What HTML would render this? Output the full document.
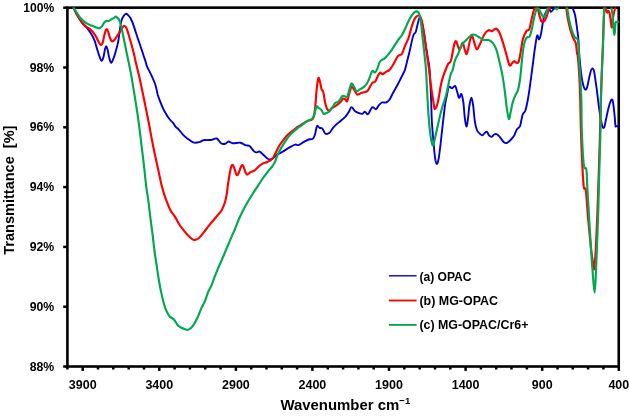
<!DOCTYPE html>
<html><head><meta charset="utf-8"><title>FTIR</title>
<style>html,body{margin:0;padding:0;background:#fff}</style></head>
<body>
<svg width="629" height="416" viewBox="0 0 629 416" style="display:block;font-family:'Liberation Sans',sans-serif;font-weight:bold">
<rect width="629" height="416" fill="#fff"/>
<defs><clipPath id="c"><rect x="68" y="7.4" width="551.8" height="360"/></clipPath></defs>
<rect x="67.4" y="7.65" width="551.35" height="358.85" fill="none" stroke="#000" stroke-width="2.6"/>
<line x1="63.2" x2="67.4" y1="7.7" y2="7.7" stroke="#000" stroke-width="2.5"/>
<text x="23.3" y="11.8" font-size="12.5" textLength="31.0" lengthAdjust="spacingAndGlyphs">100%</text>
<line x1="63.2" x2="67.4" y1="67.5" y2="67.5" stroke="#000" stroke-width="2.5"/>
<text x="29.7" y="71.6" font-size="12.5" textLength="24.6" lengthAdjust="spacingAndGlyphs">98%</text>
<line x1="63.2" x2="67.4" y1="127.3" y2="127.3" stroke="#000" stroke-width="2.5"/>
<text x="29.7" y="131.4" font-size="12.5" textLength="24.6" lengthAdjust="spacingAndGlyphs">96%</text>
<line x1="63.2" x2="67.4" y1="187.1" y2="187.1" stroke="#000" stroke-width="2.5"/>
<text x="29.7" y="191.2" font-size="12.5" textLength="24.6" lengthAdjust="spacingAndGlyphs">94%</text>
<line x1="63.2" x2="67.4" y1="246.9" y2="246.9" stroke="#000" stroke-width="2.5"/>
<text x="29.7" y="251.0" font-size="12.5" textLength="24.6" lengthAdjust="spacingAndGlyphs">92%</text>
<line x1="63.2" x2="67.4" y1="306.7" y2="306.7" stroke="#000" stroke-width="2.5"/>
<text x="29.7" y="310.8" font-size="12.5" textLength="24.6" lengthAdjust="spacingAndGlyphs">90%</text>
<line x1="63.2" x2="67.4" y1="366.5" y2="366.5" stroke="#000" stroke-width="2.5"/>
<text x="29.7" y="370.6" font-size="12.5" textLength="24.6" lengthAdjust="spacingAndGlyphs">88%</text>
<line x1="67.4" x2="67.4" y1="366.5" y2="369.5" stroke="#000" stroke-width="2.5"/>
<line x1="82.7" x2="82.7" y1="366.5" y2="370.9" stroke="#000" stroke-width="2.5"/>
<text x="68.8" y="389.1" font-size="12.5" textLength="27.8" lengthAdjust="spacingAndGlyphs">3900</text>
<line x1="98.0" x2="98.0" y1="366.5" y2="369.5" stroke="#000" stroke-width="2.5"/>
<line x1="113.3" x2="113.3" y1="366.5" y2="369.5" stroke="#000" stroke-width="2.5"/>
<line x1="128.7" x2="128.7" y1="366.5" y2="369.5" stroke="#000" stroke-width="2.5"/>
<line x1="144.0" x2="144.0" y1="366.5" y2="369.5" stroke="#000" stroke-width="2.5"/>
<line x1="159.3" x2="159.3" y1="366.5" y2="370.9" stroke="#000" stroke-width="2.5"/>
<text x="145.4" y="389.1" font-size="12.5" textLength="27.8" lengthAdjust="spacingAndGlyphs">3400</text>
<line x1="174.6" x2="174.6" y1="366.5" y2="369.5" stroke="#000" stroke-width="2.5"/>
<line x1="189.9" x2="189.9" y1="366.5" y2="369.5" stroke="#000" stroke-width="2.5"/>
<line x1="205.2" x2="205.2" y1="366.5" y2="369.5" stroke="#000" stroke-width="2.5"/>
<line x1="220.6" x2="220.6" y1="366.5" y2="369.5" stroke="#000" stroke-width="2.5"/>
<line x1="235.9" x2="235.9" y1="366.5" y2="370.9" stroke="#000" stroke-width="2.5"/>
<text x="222.0" y="389.1" font-size="12.5" textLength="27.8" lengthAdjust="spacingAndGlyphs">2900</text>
<line x1="251.2" x2="251.2" y1="366.5" y2="369.5" stroke="#000" stroke-width="2.5"/>
<line x1="266.5" x2="266.5" y1="366.5" y2="369.5" stroke="#000" stroke-width="2.5"/>
<line x1="281.8" x2="281.8" y1="366.5" y2="369.5" stroke="#000" stroke-width="2.5"/>
<line x1="297.1" x2="297.1" y1="366.5" y2="369.5" stroke="#000" stroke-width="2.5"/>
<line x1="312.4" x2="312.4" y1="366.5" y2="370.9" stroke="#000" stroke-width="2.5"/>
<text x="298.5" y="389.1" font-size="12.5" textLength="27.8" lengthAdjust="spacingAndGlyphs">2400</text>
<line x1="327.8" x2="327.8" y1="366.5" y2="369.5" stroke="#000" stroke-width="2.5"/>
<line x1="343.1" x2="343.1" y1="366.5" y2="369.5" stroke="#000" stroke-width="2.5"/>
<line x1="358.4" x2="358.4" y1="366.5" y2="369.5" stroke="#000" stroke-width="2.5"/>
<line x1="373.7" x2="373.7" y1="366.5" y2="369.5" stroke="#000" stroke-width="2.5"/>
<line x1="389.0" x2="389.0" y1="366.5" y2="370.9" stroke="#000" stroke-width="2.5"/>
<text x="375.1" y="389.1" font-size="12.5" textLength="27.8" lengthAdjust="spacingAndGlyphs">1900</text>
<line x1="404.3" x2="404.3" y1="366.5" y2="369.5" stroke="#000" stroke-width="2.5"/>
<line x1="419.7" x2="419.7" y1="366.5" y2="369.5" stroke="#000" stroke-width="2.5"/>
<line x1="435.0" x2="435.0" y1="366.5" y2="369.5" stroke="#000" stroke-width="2.5"/>
<line x1="450.3" x2="450.3" y1="366.5" y2="369.5" stroke="#000" stroke-width="2.5"/>
<line x1="465.6" x2="465.6" y1="366.5" y2="370.9" stroke="#000" stroke-width="2.5"/>
<text x="451.7" y="389.1" font-size="12.5" textLength="27.8" lengthAdjust="spacingAndGlyphs">1400</text>
<line x1="480.9" x2="480.9" y1="366.5" y2="369.5" stroke="#000" stroke-width="2.5"/>
<line x1="496.2" x2="496.2" y1="366.5" y2="369.5" stroke="#000" stroke-width="2.5"/>
<line x1="511.5" x2="511.5" y1="366.5" y2="369.5" stroke="#000" stroke-width="2.5"/>
<line x1="526.9" x2="526.9" y1="366.5" y2="369.5" stroke="#000" stroke-width="2.5"/>
<line x1="542.2" x2="542.2" y1="366.5" y2="370.9" stroke="#000" stroke-width="2.5"/>
<text x="531.8" y="389.1" font-size="12.5" textLength="20.8" lengthAdjust="spacingAndGlyphs">900</text>
<line x1="557.5" x2="557.5" y1="366.5" y2="369.5" stroke="#000" stroke-width="2.5"/>
<line x1="572.8" x2="572.8" y1="366.5" y2="369.5" stroke="#000" stroke-width="2.5"/>
<line x1="588.1" x2="588.1" y1="366.5" y2="369.5" stroke="#000" stroke-width="2.5"/>
<line x1="603.4" x2="603.4" y1="366.5" y2="369.5" stroke="#000" stroke-width="2.5"/>
<line x1="618.8" x2="618.8" y1="366.5" y2="370.9" stroke="#000" stroke-width="2.5"/>
<text x="608.4" y="389.1" font-size="12.5" textLength="20.8" lengthAdjust="spacingAndGlyphs">400</text>
<text x="280.4" y="409.7" font-size="15.2" textLength="129.9" lengthAdjust="spacingAndGlyphs">Wavenumber cm<tspan font-size="9.8" dy="-6">−1</tspan></text>
<text transform="translate(13.9,254.7) rotate(-90)" font-size="14.9" textLength="129.1" lengthAdjust="spacingAndGlyphs" xml:space="preserve">Transmittance  [%]</text>
<g clip-path="url(#c)" fill="none" stroke-linejoin="round" stroke-linecap="round">
<path d="M73.5,7.6 C74.2,9.0 76.3,13.5 77.7,16.0 C79.1,18.5 80.4,20.7 81.9,22.7 C83.4,24.7 85.4,26.0 86.9,27.8 C88.4,29.6 89.8,31.6 91.1,33.7 C92.4,35.8 93.5,37.9 94.5,40.4 C95.5,42.9 96.2,46.1 97.0,48.8 C97.8,51.5 98.7,54.4 99.5,56.4 C100.3,58.4 100.9,60.8 101.6,60.9 C102.2,61.0 102.8,59.2 103.4,57.2 C104.0,55.2 104.6,50.6 105.1,48.8 C105.6,47.0 105.9,46.2 106.3,46.3 C106.7,46.4 107.1,47.8 107.6,49.6 C108.1,51.4 108.5,55.0 109.1,57.2 C109.7,59.4 110.3,62.2 111.0,62.6 C111.7,63.0 112.2,61.4 113.0,59.7 C113.8,58.0 114.7,55.1 115.5,52.2 C116.3,49.3 117.4,45.6 118.1,42.1 C118.8,38.6 119.2,34.6 119.7,31.1 C120.2,27.6 120.8,23.5 121.4,21.0 C122.1,18.5 122.8,17.2 123.6,16.0 C124.4,14.8 125.2,14.0 126.0,13.8 C126.8,13.7 127.3,14.3 128.1,15.1 C128.9,15.9 129.8,16.9 130.7,18.5 C131.5,20.1 132.4,22.1 133.2,24.4 C134.0,26.6 134.9,29.5 135.7,32.0 C136.5,34.5 137.3,37.0 138.2,39.5 C139.0,42.0 140.0,44.6 140.8,47.1 C141.7,49.6 142.5,52.2 143.3,54.7 C144.1,57.2 145.2,60.3 145.8,62.3 C146.4,64.3 146.2,64.6 147.1,66.7 C148.0,68.8 149.9,72.0 151.3,75.1 C152.7,78.2 154.4,81.9 155.5,85.2 C156.6,88.5 157.0,92.1 157.8,95.0 C158.7,97.9 159.7,100.3 160.6,102.7 C161.5,105.1 162.5,107.3 163.5,109.4 C164.5,111.5 165.7,113.4 166.8,115.2 C167.9,117.0 169.1,118.7 170.2,120.0 C171.2,121.3 172.2,121.8 173.1,122.9 C174.0,124.0 174.6,125.6 175.5,126.7 C176.4,127.8 177.6,128.3 178.8,129.6 C180.0,130.9 181.3,132.9 182.7,134.4 C184.1,135.9 185.6,137.2 187.3,138.5 C189.1,139.8 191.2,141.8 193.2,142.4 C195.2,143.0 197.4,142.6 199.1,142.2 C200.8,141.8 202.0,140.5 203.3,140.2 C204.6,139.8 205.6,140.2 207.0,140.1 C208.4,140.0 210.2,140.1 211.8,139.8 C213.4,139.5 215.3,137.9 216.8,138.5 C218.3,139.1 219.6,142.3 221.0,143.2 C222.4,144.1 223.9,144.1 225.2,143.8 C226.5,143.5 227.3,141.6 228.6,141.5 C229.9,141.4 230.8,143.0 232.8,143.2 C234.8,143.4 238.3,142.4 240.4,142.7 C242.5,143.0 243.9,144.6 245.4,145.2 C246.9,145.8 248.2,145.0 249.6,146.0 C251.0,147.0 252.7,150.0 253.8,151.1 C254.9,152.2 255.4,152.3 256.4,152.4 C257.4,152.5 258.4,151.1 259.7,151.6 C260.9,152.1 262.5,154.1 263.9,155.3 C265.3,156.5 266.8,158.4 268.2,159.0 C269.6,159.6 270.9,159.5 272.4,158.7 C273.9,157.9 275.7,155.5 277.4,154.4 C279.1,153.3 280.7,152.9 282.4,151.9 C284.1,150.9 286.2,149.4 287.5,148.6 C288.8,147.8 288.7,147.8 290.0,147.1 C291.3,146.4 293.7,144.9 295.1,144.6 C296.5,144.3 297.1,145.5 298.5,145.1 C299.9,144.7 301.8,143.0 303.5,142.1 C305.2,141.2 307.1,140.1 308.6,139.5 C310.2,138.9 311.7,139.5 312.8,138.7 C313.9,137.9 314.3,136.6 315.0,134.5 C315.7,132.4 316.2,127.2 317.0,126.1 C317.8,125.0 318.6,127.4 319.5,127.8 C320.4,128.2 321.4,127.6 322.4,128.6 C323.4,129.6 324.2,133.0 325.4,133.7 C326.6,134.4 328.3,133.8 329.6,132.8 C330.9,131.8 331.7,129.3 333.0,127.8 C334.3,126.3 335.8,124.9 337.2,123.6 C338.6,122.3 340.0,121.4 341.4,120.2 C342.8,119.0 344.4,117.9 345.6,116.5 C346.9,115.1 347.9,113.4 348.9,111.8 C349.9,110.2 350.5,107.2 351.5,107.1 C352.5,106.9 353.6,109.9 354.8,110.9 C356.1,111.9 357.7,112.6 359.0,113.1 C360.3,113.6 361.4,114.0 362.4,113.8 C363.4,113.6 364.0,111.7 364.9,111.8 C365.8,111.9 366.9,114.4 367.8,114.3 C368.7,114.2 369.2,112.1 370.0,110.9 C370.8,109.7 371.5,107.4 372.5,107.1 C373.5,106.8 374.9,109.5 375.9,109.3 C376.9,109.1 377.4,107.0 378.4,105.9 C379.4,104.8 380.5,103.1 381.8,102.5 C383.1,101.9 384.8,102.9 386.0,102.5 C387.2,102.1 388.2,101.5 389.3,100.0 C390.4,98.5 391.7,95.5 392.6,93.7 C393.6,91.9 394.1,91.0 395.0,89.4 C395.9,87.8 397.0,85.9 398.0,84.0 C399.0,82.1 400.1,79.8 401.0,78.0 C401.9,76.2 402.9,74.3 403.5,73.0 C404.1,71.7 404.3,71.8 404.9,70.0 C405.5,68.2 406.1,65.3 406.9,62.3 C407.6,59.3 408.5,55.9 409.4,52.2 C410.2,48.6 411.3,43.4 412.0,40.4 C412.7,37.4 413.1,35.9 413.7,34.5 C414.3,33.1 415.1,33.5 415.7,32.0 C416.3,30.4 416.8,27.6 417.4,25.2 C418.0,22.8 418.9,18.5 419.5,17.7 C420.1,16.9 420.6,18.7 421.2,20.2 C421.8,21.7 422.3,24.1 422.9,26.9 C423.5,29.7 424.0,33.4 424.6,37.0 C425.2,40.6 425.7,45.1 426.3,48.8 C426.9,52.4 427.4,55.4 428.0,58.9 C428.6,62.4 429.1,63.4 429.6,70.0 C430.1,76.6 430.7,90.3 431.1,98.7 C431.5,107.1 431.4,113.0 431.8,120.2 C432.2,127.4 432.9,135.7 433.5,142.1 C434.1,148.5 434.6,155.2 435.2,158.9 C435.8,162.6 436.3,164.0 436.9,164.0 C437.5,164.0 438.1,161.7 438.6,158.9 C439.2,156.1 439.6,151.7 440.2,147.2 C440.8,142.7 441.3,137.1 441.9,132.0 C442.5,127.0 443.0,121.7 443.6,116.9 C444.2,112.1 444.7,107.1 445.3,103.4 C445.9,99.8 446.4,97.8 447.0,95.0 C447.6,92.2 447.9,88.0 448.8,86.9 C449.7,85.8 451.1,88.4 452.2,88.2 C453.3,88.0 454.4,85.4 455.2,86.0 C456.0,86.6 456.5,89.9 457.2,91.9 C457.9,93.9 458.4,97.7 459.1,98.0 C459.8,98.3 460.6,93.3 461.3,94.0 C462.0,94.7 462.7,98.2 463.3,102.0 C463.9,105.8 464.2,112.8 464.7,116.9 C465.2,121.0 465.8,126.2 466.4,126.5 C466.9,126.8 467.5,122.2 468.0,118.6 C468.5,115.0 468.9,108.5 469.5,105.0 C470.1,101.5 470.8,97.6 471.4,97.6 C472.0,97.6 472.5,101.2 473.1,105.1 C473.7,109.0 474.2,116.8 474.8,121.0 C475.4,125.2 476.1,127.9 476.9,130.0 C477.7,132.1 478.9,132.8 479.8,133.7 C480.7,134.6 481.5,135.5 482.3,135.4 C483.1,135.3 484.0,133.5 484.8,132.9 C485.6,132.3 486.3,131.3 487.0,131.7 C487.7,132.1 488.2,134.6 489.0,135.4 C489.8,136.2 490.8,136.8 491.6,136.7 C492.5,136.5 493.3,134.9 494.1,134.5 C494.9,134.1 495.8,133.9 496.6,134.2 C497.4,134.5 498.2,135.3 499.1,136.2 C500.0,137.1 500.9,138.5 501.7,139.6 C502.5,140.7 503.4,141.9 504.2,142.5 C505.0,143.1 505.9,143.2 506.7,143.0 C507.5,142.8 508.3,142.0 509.2,141.3 C510.1,140.6 511.0,139.7 511.8,138.7 C512.6,137.7 513.5,136.9 514.3,135.4 C515.1,133.9 515.8,131.1 516.8,129.5 C517.8,128.0 519.2,127.7 520.0,126.1 C520.8,124.5 520.9,122.0 521.4,120.0 C521.9,118.0 522.2,115.5 522.9,113.9 C523.6,112.3 524.5,113.0 525.4,110.5 C526.2,108.0 527.1,103.5 528.0,98.7 C528.9,93.9 529.8,87.2 530.5,81.9 C531.2,76.6 531.9,71.3 532.5,66.8 C533.1,62.3 533.5,58.9 534.0,55.0 C534.5,51.1 535.1,47.0 535.6,43.7 C536.1,40.4 536.7,36.0 537.3,35.3 C537.9,34.6 538.4,39.5 539.0,39.5 C539.6,39.5 540.1,37.7 540.7,35.3 C541.3,32.9 541.9,28.3 542.4,25.2 C542.9,22.1 543.3,19.2 544.0,16.8 C544.7,14.4 545.8,12.3 546.6,10.9 C547.5,9.5 548.4,8.2 549.1,8.4 C549.8,8.6 550.1,11.7 550.8,11.8 C551.5,12.0 552.6,10.0 553.3,9.3 C554.0,8.6 554.5,8.5 555.0,7.6 L556.0,4.0 L571.8,4.0 L572.6,7.6 C573.2,9.5 574.4,11.9 575.1,15.3 C575.8,18.7 576.5,24.2 577.0,28.0 C577.5,31.8 578.0,34.3 578.3,38.2 C578.6,42.1 578.6,46.0 579.0,51.4 C579.4,56.8 580.2,65.2 580.8,70.5 C581.4,75.8 582.0,80.0 582.8,83.2 C583.5,86.4 584.6,89.0 585.3,89.6 C586.0,90.2 586.6,88.9 587.2,87.0 C587.8,85.1 588.5,80.8 589.1,78.1 C589.7,75.3 590.4,72.1 591.0,70.5 C591.6,68.9 592.4,68.4 592.9,68.6 C593.4,68.8 593.8,69.8 594.2,71.8 C594.6,73.8 595.1,77.7 595.5,80.7 C595.9,83.7 596.3,85.5 596.8,89.6 C597.3,93.7 598.1,100.6 598.7,105.3 C599.3,110.0 600.0,114.4 600.6,118.0 C601.2,121.6 601.9,125.4 602.5,126.9 C603.1,128.4 603.8,128.4 604.4,126.9 C605.0,125.4 605.5,121.4 606.3,118.0 C607.0,114.6 608.1,109.5 608.9,106.6 C609.6,103.7 610.2,102.0 610.8,100.8 C611.4,99.6 611.9,99.1 612.3,99.6 C612.7,100.1 612.9,101.3 613.3,104.0 C613.7,106.7 614.2,111.9 614.6,115.5 C615.0,119.1 615.2,123.7 615.4,125.5 C615.6,127.3 615.5,126.2 615.6,126.3 C615.7,126.4 615.5,126.3 616.0,126.3 C616.5,126.3 618.1,126.3 618.5,126.3" stroke="#0000d0" stroke-width="1.9"/>
<path d="M73.5,7.6 C74.2,9.0 76.3,13.6 77.7,16.0 C79.1,18.4 80.7,20.2 81.9,21.9 C83.2,23.6 84.0,25.0 85.2,26.1 C86.5,27.2 88.1,27.6 89.4,28.6 C90.7,29.6 91.7,30.6 92.8,32.0 C93.9,33.4 95.2,35.3 96.2,37.0 C97.2,38.7 97.9,40.8 98.7,42.1 C99.5,43.5 100.2,45.0 100.9,45.1 C101.6,45.2 102.1,44.4 102.6,42.9 C103.1,41.4 103.6,38.3 104.1,36.2 C104.6,34.1 105.3,31.4 105.8,30.3 C106.3,29.2 106.6,29.0 107.1,29.4 C107.5,29.8 108.0,31.4 108.5,32.8 C109.0,34.2 109.5,36.5 110.0,37.9 C110.5,39.3 111.2,40.7 111.8,41.2 C112.4,41.7 113.1,41.2 113.8,40.7 C114.5,40.2 115.2,38.9 115.9,37.9 C116.6,36.9 117.4,35.6 118.1,34.5 C118.8,33.4 119.5,32.2 120.2,31.1 C120.9,30.0 121.7,28.6 122.3,27.8 C122.9,27.0 123.4,26.3 123.9,26.1 C124.5,25.9 125.0,25.9 125.6,26.6 C126.2,27.3 126.7,28.6 127.3,30.3 C127.9,32.0 128.6,34.6 129.3,37.0 C130.0,39.4 130.8,41.9 131.5,44.6 C132.2,47.3 133.0,50.2 133.7,53.0 C134.4,55.8 135.0,58.7 135.6,61.4 C136.2,64.1 136.8,66.4 137.4,69.0 C138.0,71.6 138.4,72.7 139.3,76.8 C140.2,80.9 141.7,88.1 142.9,93.7 C144.1,99.3 145.2,105.0 146.3,110.5 C147.4,116.0 148.8,122.6 149.6,127.0 C150.4,131.4 150.5,132.4 151.3,136.8 C152.2,141.2 153.5,148.1 154.7,153.7 C155.9,159.3 157.2,165.1 158.4,170.5 C159.6,175.9 160.7,181.5 161.8,186.0 C163.0,190.5 163.9,193.6 165.3,197.6 C166.7,201.6 168.9,207.1 170.4,210.2 C171.9,213.3 173.2,213.8 174.6,216.1 C176.0,218.3 177.3,221.3 178.8,223.7 C180.3,226.1 182.1,228.3 183.8,230.4 C185.5,232.5 187.2,234.7 188.9,236.3 C190.6,237.9 192.2,239.7 193.9,240.0 C195.6,240.3 197.3,239.3 199.0,238.0 C200.7,236.7 202.3,234.2 204.0,232.1 C205.7,230.0 207.4,227.5 209.1,225.4 C210.8,223.3 212.6,221.3 214.1,219.5 C215.6,217.7 217.0,216.0 218.3,214.4 C219.6,212.8 220.6,212.3 221.7,210.2 C222.8,208.1 224.2,204.8 225.1,201.8 C226.0,198.9 226.6,195.2 227.0,192.5 C227.4,189.8 227.4,188.4 227.8,185.6 C228.2,182.8 228.9,178.6 229.4,175.5 C229.9,172.4 230.5,168.9 231.1,167.1 C231.7,165.3 232.2,164.6 232.8,164.9 C233.4,165.2 233.9,167.1 234.5,168.7 C235.1,170.3 235.6,173.3 236.2,174.3 C236.8,175.3 237.3,175.4 237.9,174.6 C238.5,173.8 239.3,171.1 239.9,169.6 C240.5,168.1 241.1,166.0 241.7,165.4 C242.3,164.8 242.8,165.2 243.4,166.2 C244.0,167.2 244.5,169.9 245.1,171.3 C245.7,172.7 246.2,174.5 247.1,174.6 C248.0,174.7 249.2,172.8 250.5,172.1 C251.8,171.4 253.3,171.4 254.7,170.4 C256.1,169.4 257.5,167.4 258.9,166.2 C260.3,165.0 261.7,164.1 263.1,163.4 C264.5,162.7 265.8,162.8 267.3,162.0 C268.9,161.2 271.0,160.2 272.4,158.7 C273.8,157.2 274.6,154.9 275.7,152.8 C276.8,150.7 277.8,148.1 279.1,146.0 C280.4,143.9 281.9,141.9 283.3,140.1 C284.7,138.3 286.0,136.6 287.5,135.1 C289.0,133.6 290.8,132.2 292.5,130.9 C294.2,129.6 296.3,127.9 297.6,127.0 C298.9,126.1 298.6,126.5 300.1,125.6 C301.6,124.7 304.7,122.5 306.8,121.4 C308.9,120.3 311.4,120.7 312.7,118.9 C314.0,117.1 314.2,115.3 314.9,110.5 C315.5,105.7 316.0,95.7 316.6,90.3 C317.2,84.9 317.7,79.6 318.3,78.2 C318.9,76.8 319.4,80.0 320.0,81.9 C320.6,83.8 321.1,87.7 321.6,89.4 C322.2,91.1 322.7,89.9 323.3,92.0 C323.9,94.1 324.4,99.3 325.0,102.1 C325.6,104.9 326.3,107.4 327.0,108.8 C327.7,110.2 328.1,110.6 329.0,110.5 C329.9,110.4 330.9,108.8 332.1,108.0 C333.3,107.2 334.9,106.4 336.3,105.4 C337.7,104.4 339.4,103.2 340.5,102.1 C341.6,101.0 342.2,99.1 343.0,98.7 C343.8,98.3 344.8,99.1 345.5,99.5 C346.2,99.9 346.6,102.2 347.2,101.2 C347.8,100.2 348.5,96.1 349.2,93.7 C349.9,91.3 350.6,87.6 351.4,86.9 C352.2,86.2 352.9,88.1 353.9,89.4 C354.9,90.7 356.0,93.9 357.3,94.5 C358.6,95.1 360.2,93.2 361.5,92.8 C362.8,92.4 363.9,92.3 364.9,92.0 C365.9,91.7 366.6,91.9 367.4,91.1 C368.2,90.2 369.1,88.3 369.9,86.9 C370.7,85.5 371.5,83.5 372.4,82.7 C373.2,81.9 374.1,82.9 375.0,81.9 C375.9,80.9 376.7,78.3 377.5,76.8 C378.3,75.2 379.2,73.0 380.0,72.6 C380.8,72.2 381.5,74.4 382.5,74.3 C383.5,74.2 384.8,72.5 385.9,71.8 C387.0,71.1 388.1,71.2 389.3,70.1 C390.5,69.0 391.6,67.3 393.0,65.0 C394.4,62.7 396.2,58.3 397.7,56.4 C399.2,54.5 400.6,55.6 401.9,53.8 C403.1,52.0 404.1,48.0 405.2,45.4 C406.3,42.8 407.6,40.7 408.6,37.9 C409.6,35.1 410.2,31.4 411.1,28.6 C412.0,25.8 412.9,23.0 413.7,21.0 C414.5,19.0 415.4,17.7 416.2,16.8 C417.0,15.9 417.7,15.5 418.4,15.5 C419.1,15.5 419.8,15.7 420.4,16.8 C421.0,17.9 421.5,19.4 422.1,21.9 C422.7,24.4 423.2,28.4 423.8,32.0 C424.4,35.6 424.8,39.8 425.4,43.7 C425.9,47.6 426.5,51.1 427.1,55.5 C427.7,59.9 428.4,64.8 429.1,70.0 C429.8,75.2 430.3,81.3 431.1,86.9 C431.9,92.5 433.1,100.0 433.7,103.7 C434.3,107.4 434.3,109.4 435.0,109.1 C435.7,108.8 436.9,106.3 437.9,102.0 C438.9,97.7 440.2,88.2 441.2,83.5 C442.2,78.8 443.3,76.2 444.0,74.0 C444.7,71.8 444.9,71.7 445.6,70.0 C446.3,68.3 447.2,65.3 448.1,63.9 C449.0,62.5 449.9,63.3 450.7,61.4 C451.5,59.5 452.1,55.2 452.7,52.2 C453.3,49.2 453.8,45.5 454.4,43.7 C455.0,41.9 455.6,40.9 456.1,41.2 C456.7,41.5 457.1,44.0 457.7,45.4 C458.2,46.8 458.8,49.5 459.4,49.6 C460.0,49.8 460.5,47.4 461.1,46.3 C461.7,45.2 462.2,42.5 462.8,42.9 C463.4,43.3 463.9,46.9 464.5,48.8 C465.1,50.7 465.9,54.2 466.5,54.2 C467.1,54.2 467.6,51.2 468.2,48.8 C468.8,46.3 469.5,41.6 470.2,39.5 C470.9,37.4 471.5,35.8 472.2,36.2 C472.9,36.6 473.5,40.0 474.2,42.1 C474.9,44.2 475.8,48.4 476.6,49.1 C477.4,49.8 478.1,47.8 478.9,46.3 C479.7,44.8 480.7,42.4 481.6,40.4 C482.5,38.4 483.2,36.2 484.3,34.5 C485.4,32.8 487.2,30.9 488.5,30.3 C489.8,29.7 490.6,31.4 491.9,31.1 C493.2,30.8 494.9,28.3 496.1,28.6 C497.4,28.9 498.3,30.5 499.4,32.8 C500.5,35.0 501.7,38.6 502.8,42.1 C503.9,45.6 505.1,49.9 506.2,53.8 C507.3,57.6 508.5,63.7 509.5,65.2 C510.5,66.8 511.4,63.8 512.1,63.1 C512.9,62.4 513.3,61.3 514.0,61.2 C514.7,61.1 515.5,62.5 516.2,62.6 C517.0,62.7 517.8,63.6 518.5,62.0 C519.2,60.4 519.8,56.9 520.5,53.0 C521.2,49.1 522.0,42.4 523.0,38.7 C524.0,35.1 525.4,32.7 526.4,31.1 C527.4,29.6 528.4,31.2 529.2,29.4 C530.0,27.6 530.6,23.4 531.4,20.2 C532.2,17.0 533.1,12.2 533.9,10.1 C534.7,8.0 535.3,7.6 536.0,7.6 C536.7,7.6 537.5,8.6 538.1,10.1 C538.7,11.6 539.1,14.8 539.8,16.8 C540.4,18.8 541.1,21.3 542.0,21.9 C542.9,22.5 544.0,21.3 544.9,20.2 C545.8,19.1 546.5,16.9 547.1,15.1 C547.7,13.3 548.2,10.6 548.7,9.3 C549.2,8.1 549.6,8.5 550.0,7.6 L551.0,4.0 L565.7,4.0 L566.2,7.6 C566.6,10.1 567.2,15.5 567.9,19.1 C568.6,22.7 569.3,26.1 570.2,29.3 C571.1,32.5 572.3,35.9 573.2,38.2 C574.1,40.5 575.2,40.8 575.8,43.3 C576.4,45.8 576.6,50.6 577.0,53.0 C577.4,55.4 577.6,53.7 578.0,57.7 C578.4,61.7 578.9,70.1 579.3,76.8 C579.7,83.5 579.9,89.1 580.2,98.0 C580.5,106.9 580.5,118.9 580.9,130.0 C581.2,141.1 581.8,155.2 582.3,164.7 C582.8,174.2 583.2,182.8 583.8,187.1 C584.4,191.3 585.1,185.6 585.8,190.2 C586.5,194.8 587.0,205.5 587.8,214.9 C588.6,224.3 590.0,239.0 590.8,246.7 C591.6,254.4 592.2,257.2 592.7,261.0 C593.2,264.8 593.5,270.9 594.0,269.2 C594.5,267.5 595.1,260.7 595.7,250.8 C596.3,240.9 596.8,228.0 597.5,210.0 C598.2,192.0 599.1,161.7 599.7,143.0 C600.3,124.3 600.5,110.2 600.9,98.0 C601.3,85.8 601.6,78.8 601.9,70.0 C602.2,61.2 602.6,53.3 602.9,45.0 C603.2,36.7 603.5,26.2 603.7,20.0 C604.0,13.8 604.3,10.3 604.4,7.6 L604.5,4.0 L605.4,4.0 L605.7,7.6 C606.0,9.0 606.6,12.2 607.0,12.7 C607.4,13.2 607.8,10.8 608.2,10.8 C608.6,10.8 609.1,10.9 609.5,12.7 C609.9,14.5 610.4,19.2 610.8,21.7 C611.2,24.1 611.5,27.8 611.8,27.4 C612.1,27.0 612.3,21.6 612.7,19.1 C613.1,16.7 613.6,14.6 614.0,12.7 C614.4,10.8 614.9,9.0 615.2,7.6 L615.6,4.0" stroke="#ff0000" stroke-width="2.15"/>
<path d="M73.5,7.6 C74.0,8.4 75.7,10.9 76.8,12.6 C77.9,14.3 78.9,16.1 80.2,17.7 C81.5,19.2 83.0,20.8 84.4,21.9 C85.8,23.0 87.2,23.7 88.6,24.4 C90.0,25.1 91.5,25.6 92.8,26.1 C94.1,26.6 95.1,27.0 96.2,27.4 C97.3,27.8 98.5,28.5 99.5,28.3 C100.5,28.1 101.3,27.0 102.1,26.1 C102.9,25.2 103.4,23.6 104.1,22.7 C104.8,21.8 105.5,21.3 106.3,21.0 C107.1,20.7 108.0,21.3 108.8,21.0 C109.6,20.7 110.5,19.9 111.3,19.4 C112.1,18.9 113.1,18.7 113.8,18.2 C114.5,17.7 114.9,16.6 115.5,16.5 C116.1,16.4 116.6,17.2 117.2,17.7 C117.8,18.2 118.4,18.6 118.9,19.4 C119.4,20.2 119.8,21.4 120.2,22.7 C120.6,23.9 120.9,24.8 121.4,26.9 C121.9,29.0 122.5,32.5 123.1,35.3 C123.7,38.1 124.2,40.9 124.8,43.7 C125.4,46.5 125.9,49.4 126.5,52.2 C127.1,55.0 127.7,57.8 128.3,60.6 C128.9,63.4 129.5,66.3 130.0,69.0 C130.5,71.7 130.8,72.7 131.5,76.8 C132.2,80.9 133.4,88.1 134.3,93.7 C135.2,99.3 136.2,105.3 137.0,110.5 C137.8,115.7 138.4,120.6 139.0,125.0 C139.6,129.4 139.9,132.0 140.5,136.8 C141.1,141.6 141.8,148.1 142.5,153.7 C143.2,159.3 143.9,164.9 144.5,170.5 C145.1,176.1 145.6,181.8 146.3,187.0 C147.0,192.2 147.8,196.5 148.5,201.8 C149.2,207.1 149.8,213.1 150.5,218.7 C151.2,224.3 152.0,229.6 152.7,235.5 C153.4,241.4 154.2,249.1 154.9,254.0 C155.6,258.9 156.0,260.9 156.6,265.0 C157.2,269.1 157.8,274.0 158.6,278.5 C159.3,283.0 160.2,287.8 161.1,291.9 C161.9,296.0 162.8,299.8 163.7,302.9 C164.5,306.0 165.2,308.2 166.2,310.4 C167.2,312.6 168.2,314.8 169.5,316.3 C170.8,317.9 172.7,318.1 174.1,319.7 C175.5,321.2 176.7,324.2 178.0,325.6 C179.3,327.0 180.5,327.4 182.2,328.1 C183.9,328.8 186.3,330.2 188.1,329.8 C189.9,329.4 191.6,327.6 193.1,325.6 C194.6,323.6 195.9,320.9 197.3,318.0 C198.7,315.1 200.2,310.7 201.5,307.9 C202.8,305.1 203.8,303.9 204.9,301.2 C206.0,298.5 207.1,294.6 208.2,291.9 C209.3,289.2 210.5,287.9 211.6,285.2 C212.7,282.5 213.7,279.1 215.0,275.9 C216.3,272.7 217.6,269.4 219.2,265.8 C220.8,262.2 222.6,258.0 224.3,254.0 C226.0,250.0 227.7,245.9 229.4,241.8 C231.1,237.7 233.0,233.6 234.7,229.6 C236.4,225.6 237.7,221.7 239.5,217.8 C241.3,213.9 243.2,209.9 245.4,206.0 C247.6,202.1 250.3,197.7 252.4,194.3 C254.5,190.9 256.3,188.3 258.1,185.6 C259.9,182.9 261.4,180.4 263.1,178.0 C264.8,175.6 266.6,173.3 268.1,171.3 C269.7,169.3 271.3,167.8 272.4,166.2 C273.5,164.6 274.1,163.8 274.9,162.0 C275.7,160.2 276.4,157.5 277.4,155.3 C278.4,153.1 279.5,150.8 280.8,148.6 C282.1,146.3 283.6,143.9 285.0,141.8 C286.4,139.7 287.8,137.6 289.2,135.9 C290.6,134.2 291.9,133.1 293.4,131.7 C294.9,130.3 297.3,128.4 298.4,127.5 C299.5,126.6 298.7,127.5 300.1,126.5 C301.5,125.5 304.7,122.8 306.8,121.4 C308.9,120.0 311.4,119.6 312.7,118.1 C314.0,116.6 314.2,114.2 314.9,112.2 C315.5,110.2 316.0,107.0 316.6,106.3 C317.2,105.6 317.9,107.5 318.6,108.0 C319.4,108.5 320.2,108.6 321.1,109.6 C322.0,110.6 322.9,113.2 323.7,113.8 C324.5,114.4 325.2,113.4 326.2,113.0 C327.2,112.6 328.4,112.4 329.5,111.3 C330.6,110.2 331.9,107.7 332.9,106.3 C333.9,104.9 334.4,103.8 335.4,102.9 C336.4,102.1 337.7,102.3 338.8,101.2 C339.9,100.1 341.2,97.0 342.2,96.2 C343.2,95.4 343.9,96.1 344.7,96.2 C345.5,96.3 346.4,98.0 347.2,97.0 C347.9,96.0 348.5,92.5 349.2,90.3 C349.9,88.1 350.7,84.3 351.4,83.6 C352.1,82.9 352.8,84.8 353.6,86.1 C354.5,87.3 355.5,90.5 356.5,91.1 C357.5,91.6 358.6,90.1 359.8,89.4 C361.1,88.7 362.7,88.0 364.0,86.9 C365.3,85.8 366.4,84.4 367.4,82.7 C368.4,81.0 369.1,78.8 369.9,76.8 C370.7,74.8 371.5,71.6 372.4,70.9 C373.2,70.2 374.1,73.0 375.0,72.6 C375.9,72.2 376.7,70.2 377.5,68.4 C378.3,66.6 378.8,63.2 380.0,61.5 C381.2,59.8 383.3,59.6 385.0,58.1 C386.7,56.6 388.4,54.5 390.1,52.2 C391.8,50.0 393.7,46.7 395.1,44.6 C396.5,42.5 397.4,41.0 398.5,39.5 C399.6,38.0 400.8,37.1 401.9,35.3 C403.0,33.5 404.1,31.0 405.2,28.6 C406.3,26.2 407.5,23.2 408.6,21.0 C409.7,18.8 411.0,16.6 412.0,15.1 C413.0,13.6 413.7,12.7 414.5,12.1 C415.3,11.5 416.2,11.2 417.0,11.4 C417.8,11.6 418.4,12.3 419.0,13.5 C419.6,14.7 419.9,16.0 420.4,18.5 C420.8,21.0 421.2,24.7 421.7,28.6 C422.1,32.5 422.6,37.6 423.1,42.1 C423.6,46.6 424.1,50.9 424.6,55.5 C425.1,60.1 425.6,64.8 426.0,70.0 C426.4,75.2 426.5,79.4 426.9,86.9 C427.3,94.4 427.9,107.1 428.5,115.2 C429.1,123.3 429.8,130.3 430.5,135.4 C431.2,140.5 431.9,145.2 432.7,145.5 C433.5,145.8 434.2,141.0 435.2,137.1 C436.2,133.2 437.5,126.7 438.6,121.9 C439.7,117.1 440.6,113.0 441.9,108.5 C443.1,104.0 444.7,100.6 446.1,95.0 C447.5,89.4 449.4,79.3 450.5,75.1 C451.6,70.9 452.0,72.4 452.7,70.0 C453.4,67.6 454.0,63.3 454.9,60.6 C455.8,57.9 457.1,56.3 458.2,53.8 C459.3,51.3 460.3,47.6 461.6,45.4 C462.9,43.2 464.4,41.9 465.8,40.4 C467.2,38.9 468.9,37.2 470.0,36.2 C471.1,35.2 471.5,34.6 472.5,34.5 C473.5,34.4 474.6,34.7 475.9,35.3 C477.2,35.9 478.8,37.1 480.1,37.9 C481.4,38.7 482.1,39.6 483.5,40.0 C484.9,40.4 487.0,39.5 488.5,40.0 C490.0,40.5 491.4,41.4 492.7,42.9 C494.0,44.4 495.1,46.3 496.1,48.8 C497.1,51.3 497.9,55.4 498.6,58.1 C499.3,60.8 499.5,62.0 500.2,65.1 C500.9,68.2 501.9,72.4 502.7,76.9 C503.5,81.4 504.2,86.7 504.9,92.0 C505.6,97.3 506.2,104.3 506.9,108.8 C507.6,113.3 508.3,118.3 508.9,118.9 C509.5,119.5 510.0,115.0 510.6,112.2 C511.2,109.4 512.0,104.9 512.8,102.1 C513.6,99.3 514.4,97.4 515.3,95.4 C516.1,93.4 517.1,93.0 517.9,90.3 C518.7,87.6 519.4,83.5 520.0,79.5 C520.6,75.5 521.0,70.1 521.4,66.0 C521.8,61.9 522.1,58.4 522.5,55.0 C522.9,51.6 523.1,48.2 523.8,45.4 C524.4,42.5 525.4,39.4 526.4,37.9 C527.4,36.4 528.8,37.8 529.7,36.2 C530.6,34.7 531.1,31.8 531.9,28.6 C532.7,25.4 533.5,20.0 534.3,16.8 C535.1,13.6 535.9,10.8 536.5,9.3 C537.1,7.8 537.4,7.0 538.1,7.6 C538.8,8.1 539.9,11.1 540.7,12.6 C541.6,14.1 542.4,16.4 543.2,16.8 C544.0,17.2 544.7,16.5 545.4,15.1 C546.1,13.7 546.9,9.8 547.4,8.4 C547.9,7.1 548.2,7.7 548.5,7.0 L549.0,4.0 L555.0,4.0 L555.5,7.6 C555.8,8.5 556.3,9.3 556.7,9.3 C557.1,9.3 557.7,8.5 558.0,7.6 L558.5,4.0 L566.6,4.0 L567.2,7.6 C567.6,10.1 568.3,15.5 569.0,19.1 C569.7,22.7 570.6,26.3 571.5,29.3 C572.4,32.3 573.5,35.2 574.5,36.9 C575.5,38.6 577.0,38.0 577.7,39.5 C578.4,41.0 578.5,42.9 578.7,45.9 C578.9,48.9 578.8,52.6 579.0,57.7 C579.2,62.9 579.8,70.1 580.2,76.8 C580.6,83.5 581.0,89.1 581.3,98.0 C581.6,106.9 581.4,118.9 581.8,130.0 C582.2,141.1 583.0,158.1 583.8,164.7 C584.6,171.3 585.8,165.7 586.4,169.8 C587.0,173.9 587.0,182.2 587.4,189.2 C587.8,196.2 588.3,203.4 588.8,212.0 C589.3,220.6 589.9,230.7 590.5,240.6 C591.1,250.5 591.9,262.5 592.6,271.2 C593.3,279.9 594.0,292.7 594.6,292.7 C595.2,292.7 595.6,279.9 596.0,271.2 C596.4,262.5 596.8,250.8 597.2,240.6 C597.6,230.4 597.9,221.6 598.3,210.0 C598.6,198.4 598.9,184.1 599.3,170.8 C599.7,157.5 600.2,142.1 600.5,130.0 C600.8,117.9 600.8,107.9 601.0,98.0 C601.2,88.1 601.6,79.3 601.9,70.5 C602.2,61.7 602.7,53.6 603.0,45.0 C603.3,36.4 603.6,25.3 603.8,19.1 C604.0,12.9 604.3,10.1 604.4,7.6 L604.6,4.0 L611.1,4.0 L611.4,7.6 C611.7,9.7 612.3,12.8 612.7,16.6 C613.1,20.4 613.4,27.5 613.7,30.6 C614.0,33.7 614.2,35.0 614.4,35.0 C614.6,35.0 614.8,32.6 615.0,30.6 C615.2,28.6 615.1,24.3 615.5,22.9 C615.9,21.4 616.7,22.1 617.2,21.9 C617.7,21.7 618.3,21.7 618.5,21.7" stroke="#00a84f" stroke-width="2.15"/>
</g>
<line x1="388.9" x2="416.6" y1="275.8" y2="275.8" stroke="#0000d0" stroke-width="1.4"/>
<text x="419.4" y="280.5" font-size="12.5" textLength="52.2" lengthAdjust="spacingAndGlyphs">(a) OPAC</text>
<line x1="388.9" x2="416.6" y1="300.5" y2="300.5" stroke="#ff0000" stroke-width="1.8"/>
<text x="419.4" y="304.8" font-size="12.5" textLength="78.7" lengthAdjust="spacingAndGlyphs">(b) MG-OPAC</text>
<line x1="388.9" x2="416.6" y1="324.9" y2="324.9" stroke="#00a84f" stroke-width="1.8"/>
<text x="419.4" y="329.1" font-size="12.5" textLength="109.0" lengthAdjust="spacingAndGlyphs">(c) MG-OPAC/Cr6+</text>
</svg>
</body></html>
